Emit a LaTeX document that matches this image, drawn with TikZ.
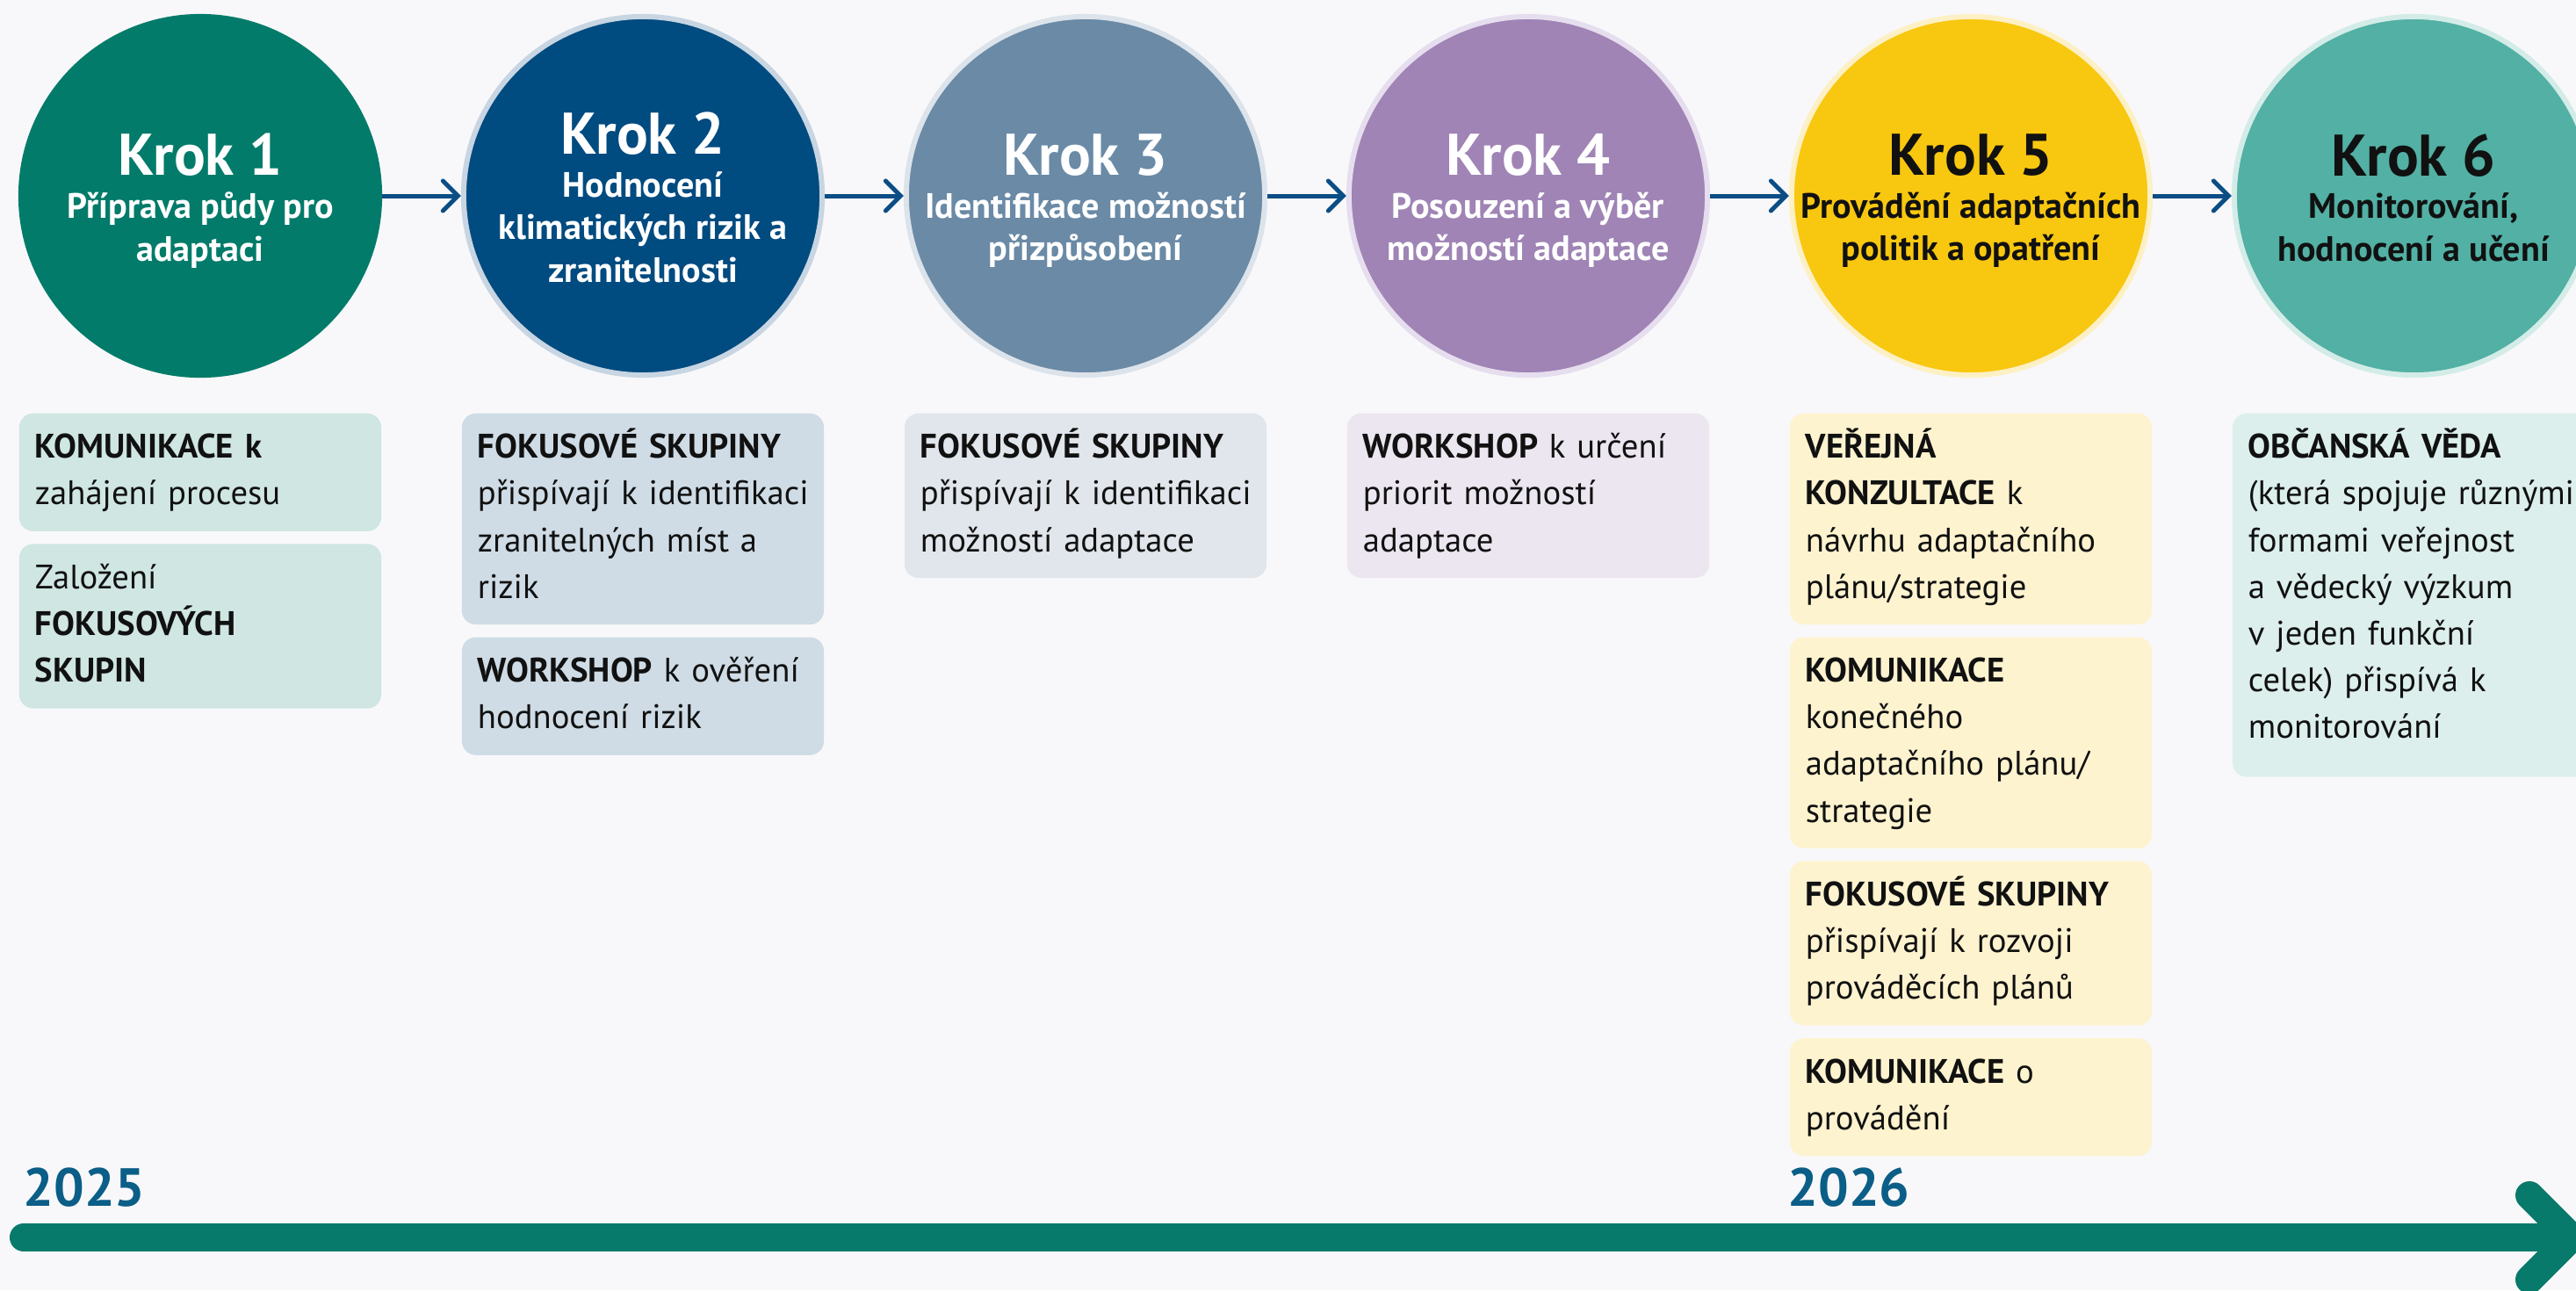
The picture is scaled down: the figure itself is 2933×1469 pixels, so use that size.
\documentclass[tikz,border=0pt]{standalone}
\usepackage{fontspec}
\setmainfont{PT Sans}
\usepackage{tikz}
\usetikzlibrary{arrows.meta, positioning}

\definecolor{bg}{HTML}{F8F8FA}
\definecolor{ink}{HTML}{111111}
\definecolor{cOne}{HTML}{037B6A}
\definecolor{cTwo}{HTML}{004B80}
\definecolor{cThree}{HTML}{6A8AA6}
\definecolor{cFour}{HTML}{9F84B5}
\definecolor{cFive}{HTML}{F8C70F}
\definecolor{cSix}{HTML}{52B0A4}
\definecolor{rTwo}{HTML}{C8D5E2}
\definecolor{rThree}{HTML}{DCE3EA}
\definecolor{rFour}{HTML}{E6DEEE}
\definecolor{rFive}{HTML}{FDF0C4}
\definecolor{rSix}{HTML}{D3ECE8}
\definecolor{bOne}{HTML}{CFE6E2}
\definecolor{bTwo}{HTML}{CFDCE6}
\definecolor{bThree}{HTML}{E1E6EC}
\definecolor{bFour}{HTML}{ECE6F0}
\definecolor{bFive}{HTML}{FEF3CF}
\definecolor{bSix}{HTML}{DCEFEC}
\definecolor{arrowblue}{HTML}{0B4D85}
\definecolor{tlgreen}{HTML}{087A6B}
\definecolor{yearblue}{HTML}{0A5E87}

\newcommand{\kroklabel}[1]{{\fontsize{19pt}{13.8pt}\selectfont Krok #1}}

\tikzset{
  krok/.style 2 args={circle, fill=#1, draw=#2, line width=0.06cm, minimum size=4.08cm, inner sep=0pt},
  kroktext/.style={align=center, inner sep=0pt, font=\fontsize{11.4pt}{13.8pt}\selectfont\bfseries},
  box/.style={fill=#1, rounded corners=0.16cm, text width=3.76cm, inner xsep=0.18cm, inner ysep=0.14cm,
    align=left, anchor=north, text=ink, font=\fontsize{11pt}{15.1pt}\selectfont},
  steparrow/.style={draw=arrowblue, line width=0.05cm, -{Straight Barb[length=0.17cm, width=0.34cm, line cap=round]}},
  timeline/.style={draw=tlgreen, line width=0.32cm, line cap=round, line join=round},
  year/.style={text=yearblue, inner sep=0pt, anchor=base west, font=\fontsize{17.4pt}{20pt}\selectfont\bfseries},
}

\begin{document}
\begin{tikzpicture}[x=0.01cm, y=-0.01cm]
  \fill[bg] (0,0) rectangle (2933,1469);
  \useasboundingbox (0,0) rectangle (2933,1469);

  % kroky
  \node[krok={cOne}{cOne}] (k1) at (228,223) {};
  \node[krok={cTwo}{rTwo}] (k2) at (732,223) {};
  \node[krok={cThree}{rThree}] (k3) at (1236,223) {};
  \node[krok={cFour}{rFour}] (k4) at (1740,223) {};
  \node[krok={cFive}{rFive}] (k5) at (2244,223) {};
  \node[krok={cSix}{rSix}] (k6) at (2748,223) {};

  \node[kroktext, text=white] (n1) at ([yshift=-0.09cm]k1.center) {\kroklabel{1}\\Příprava půdy pro\\adaptaci\strut};
  \node[kroktext, text=white] (n2) at ([yshift=-0.09cm]k2.center) {\kroklabel{2}\\Hodnocení\\klimatických rizik a\\zranitelnosti\strut};
  \node[kroktext, text=white] (n3) at ([yshift=-0.09cm]k3.center) {\kroklabel{3}\\Identifikace možností\\přizpůsobení\strut};
  \node[kroktext, text=white] (n4) at ([yshift=-0.09cm]k4.center) {\kroklabel{4}\\Posouzení a výběr\\možností adaptace\strut};
  \node[kroktext, text=ink] (n5) at ([yshift=-0.09cm]k5.center) {\kroklabel{5}\\Provádění adaptačních\\politik a opatření\strut};
  \node[kroktext, text=ink] (n6) at ([yshift=-0.09cm]k6.center) {\kroklabel{6}\\Monitorování,\\hodnocení a učení\strut};

  \draw[steparrow] (k1) -- (k2);
  \draw[steparrow] (k2) -- (k3);
  \draw[steparrow] (k3) -- (k4);
  \draw[steparrow] (k4) -- (k5);
  \draw[steparrow] (k5) -- (k6);

  % aktivity
  \node[box=bOne] (b1a) at (228,470) {\strut\textbf{KOMUNIKACE k}\\zahájení procesu\strut};
  \node[box=bOne, below=0.13cm of b1a] (b1b) {\strut Založení\\\textbf{FOKUSOVÝCH}\\\textbf{SKUPIN}\strut};

  \node[box=bTwo] (b2a) at (732,470) {\strut\textbf{FOKUSOVÉ SKUPINY}\\\mbox{přispívají k identifikaci}\\zranitelných míst a\\rizik\strut};
  \node[box=bTwo, below=0.13cm of b2a] (b2b) {\strut\textbf{WORKSHOP} k ověření\\hodnocení rizik\strut};

  \node[box=bThree] (b3a) at (1236,470) {\strut\textbf{FOKUSOVÉ SKUPINY}\\\mbox{přispívají k identifikaci}\\možností adaptace\strut};

  \node[box=bFour] (b4a) at (1740,470) {\strut\textbf{WORKSHOP} k určení\\priorit možností\\adaptace\strut};

  \node[box=bFive] (b5a) at (2244,470) {\strut\textbf{VEŘEJNÁ}\\\textbf{KONZULTACE} k\\návrhu adaptačního\\plánu/strategie\strut};
  \node[box=bFive, below=0.13cm of b5a] (b5b) {\strut\textbf{KOMUNIKACE}\\konečného\\adaptačního plánu/\\strategie\strut};
  \node[box=bFive, below=0.13cm of b5b] (b5c) {\strut\textbf{FOKUSOVÉ SKUPINY}\\přispívají k rozvoji\\prováděcích plánů\strut};
  \node[box=bFive, below=0.13cm of b5c] (b5d) {\strut\textbf{KOMUNIKACE} o\\provádění\strut};

  \node[box=bSix] (b6a) at (2748,470) {\strut\textbf{OBČANSKÁ VĚDA}\\\mbox{(která spojuje různými}\\formami veřejnost\\a vědecký výzkum\\v jeden funkční\\celek) přispívá k\\monitorování\rule[-0.3cm]{0pt}{0.3cm}};

  % casova osa
  \node[year] (y25) at (26,1373) {2025};
  \node[year] (y26) at (2035,1373) {2026};

  \coordinate (tl0) at (27,1409);
  \coordinate (tl1) at (2928,1409);
  \draw[timeline] (tl0) -- (tl1);
  \draw[timeline] ([shift={(-48,-48)}]tl1) -- (tl1) -- ([shift={(-48,48)}]tl1);
\end{tikzpicture}
\end{document}
